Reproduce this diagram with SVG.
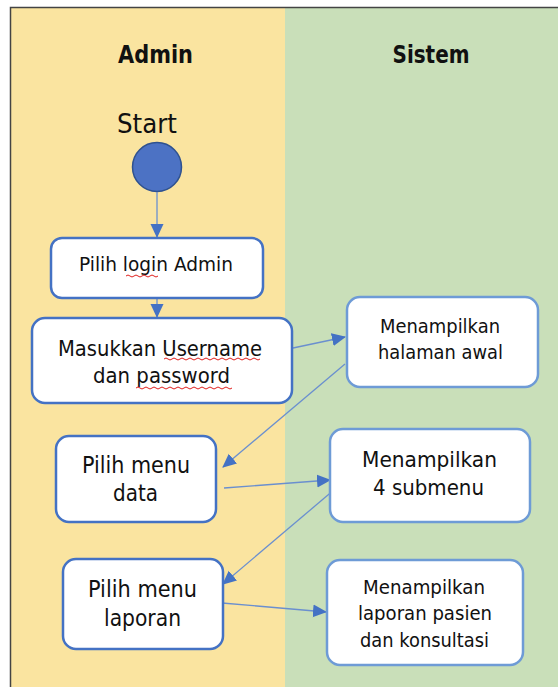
<svg xmlns="http://www.w3.org/2000/svg" width="558" height="687" viewBox="0 0 558 687">
<style>
.lane-title{font-family:"DejaVu Sans",sans-serif;font-weight:bold;font-size:25px;fill:#111;text-anchor:middle}
.box{fill:#fff;stroke:#4472C4;stroke-width:2.5}
.boxs{fill:#fff;stroke:#6E9BD6;stroke-width:2.5}
.t{font-family:"DejaVu Sans",sans-serif;fill:#111;text-anchor:middle}
.c{stroke:#6A8FCF;stroke-width:1.3;fill:none;marker-end:url(#ah)}
.sq{stroke:#E0201E;stroke-width:1;fill:none}
</style>
<defs>
<marker id="ah" viewBox="0 0 14 14" refX="13" refY="7" markerWidth="14" markerHeight="14" markerUnits="userSpaceOnUse" orient="auto">
<path d="M0,0.5 L14,7 L0,13.5 Z" fill="#4472C4"/>
</marker>
</defs>
<rect x="0" y="0" width="558" height="687" fill="#fff"/>
<g id="lanes">
<rect x="11" y="8" width="274" height="679" fill="#FAE4A0"/>
<rect x="285" y="8" width="273" height="679" fill="#C9DFB9"/>
<path d="M10.5,687 V7.5 H558" stroke="#444" stroke-width="1.5" fill="none"/>
<text class="lane-title" x="155.5" y="63" textLength="75" lengthAdjust="spacingAndGlyphs">Admin</text>
<text class="lane-title" x="431" y="63" textLength="77" lengthAdjust="spacingAndGlyphs">Sistem</text>
</g>
<g id="start">
<text x="147" y="133" font-family="DejaVu Sans,sans-serif" font-size="26" fill="#111" text-anchor="middle" textLength="60" lengthAdjust="spacingAndGlyphs">Start</text>
<circle cx="157" cy="167" r="24.5" fill="#4C72C4" stroke="#2F528F" stroke-width="1.5"/>
</g>
<g id="connectors">
<line class="c" x1="157" y1="192" x2="157" y2="237"/>
<line class="c" x1="157" y1="299" x2="157" y2="317"/>
<line class="c" x1="293" y1="348" x2="345" y2="337"/>
<line class="c" x1="345" y1="364" x2="223" y2="467"/>
<line class="c" x1="224" y1="488" x2="330" y2="480"/>
<line class="c" x1="335" y1="489" x2="223" y2="584"/>
<line class="c" x1="222" y1="603" x2="326" y2="612"/>
</g>
<g id="n1">
<rect class="box" x="51" y="238" width="212" height="60" rx="11"/>
<text class="t" x="156" y="271" font-size="20" textLength="154" lengthAdjust="spacingAndGlyphs">Pilih login Admin</text>
<path class="sq" d="M126,276 q2,-2 4,0 t4,0 t4,0 t4,0 t4,0 t4,0 t4,0 t4,0"/>
</g>
<g id="n2">
<rect class="box" x="32" y="318" width="260" height="85" rx="13"/>
<text class="t" x="160" y="356" font-size="22" textLength="204" lengthAdjust="spacingAndGlyphs">Masukkan Username</text>
<text class="t" x="161.5" y="383" font-size="22" textLength="137" lengthAdjust="spacingAndGlyphs">dan password</text>
<path class="sq" d="M164,359 q2,-2 4,0 t4,0 t4,0 t4,0 t4,0 t4,0 t4,0 t4,0 t4,0 t4,0 t4,0 t4,0 t4,0 t4,0 t4,0 t4,0 t4,0 t4,0 t4,0 t4,0 t4,0 t4,0 t4,0 t4,0"/>
<path class="sq" d="M136,388 q2,-2 4,0 t4,0 t4,0 t4,0 t4,0 t4,0 t4,0 t4,0 t4,0 t4,0 t4,0 t4,0 t4,0 t4,0 t4,0 t4,0 t4,0 t4,0 t4,0 t4,0 t4,0 t4,0 t4,0 t4,0"/>
</g>
<g id="n3">
<rect class="boxs" x="347" y="297" width="191" height="90" rx="13"/>
<text class="t" x="440" y="333" font-size="19.5" textLength="120" lengthAdjust="spacingAndGlyphs">Menampilkan</text>
<text class="t" x="440.5" y="359" font-size="19.5" textLength="125" lengthAdjust="spacingAndGlyphs">halaman awal</text>
</g>
<g id="n4">
<rect class="box" x="56" y="436" width="160" height="86" rx="13"/>
<text class="t" x="136" y="473" font-size="23" textLength="108" lengthAdjust="spacingAndGlyphs">Pilih menu</text>
<text class="t" x="135.5" y="501" font-size="23" textLength="45" lengthAdjust="spacingAndGlyphs">data</text>
</g>
<g id="n5">
<rect class="boxs" x="330" y="429" width="200" height="93" rx="13"/>
<text class="t" x="429.5" y="467" font-size="22" textLength="135" lengthAdjust="spacingAndGlyphs">Menampilkan</text>
<text class="t" x="428.5" y="495" font-size="22" textLength="111" lengthAdjust="spacingAndGlyphs">4 submenu</text>
</g>
<g id="n6">
<rect class="box" x="63" y="559" width="160" height="90" rx="13"/>
<text class="t" x="142.5" y="597" font-size="23" textLength="109" lengthAdjust="spacingAndGlyphs">Pilih menu</text>
<text class="t" x="142.5" y="626" font-size="23" textLength="77" lengthAdjust="spacingAndGlyphs">laporan</text>
</g>
<g id="n7">
<rect class="boxs" x="327" y="560" width="196" height="105" rx="13"/>
<text class="t" x="424" y="594" font-size="20" textLength="122" lengthAdjust="spacingAndGlyphs">Menampilkan</text>
<text class="t" x="425" y="620" font-size="20" textLength="134" lengthAdjust="spacingAndGlyphs">laporan pasien</text>
<text class="t" x="424.5" y="647" font-size="20" textLength="129" lengthAdjust="spacingAndGlyphs">dan konsultasi</text>
</g>
</svg>
